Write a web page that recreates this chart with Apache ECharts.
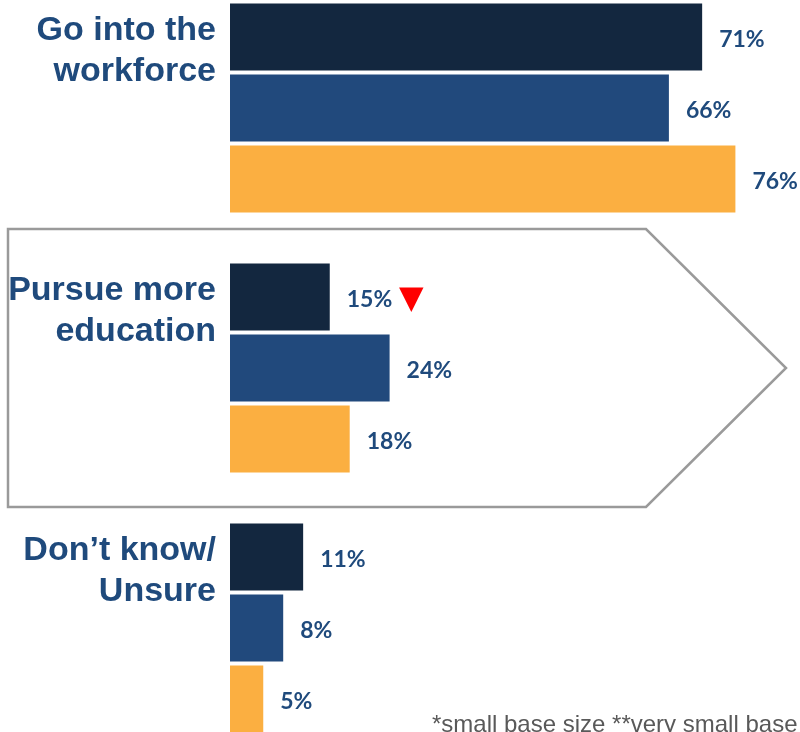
<!DOCTYPE html>
<html>
<head>
<meta charset="utf-8">
<script src="https://cdn.jsdelivr.net/npm/echarts@6/dist/echarts.min.js"></script>
<style>
  html, body { margin: 0; padding: 0; background: #ffffff; }
  #chart { width: 800px; height: 732px; }
</style>
</head>
<body>
<div id="chart"></div>
<script>
// Plans after finishing school, three survey groups
const categories = ['Go into the\nworkforce', 'Pursue more\neducation', 'Don\u2019t know/\nUnsure'];
const seriesNames = ['Group A', 'Group B', 'Group C'];
const valuesA = [71, 15, 11];
const valuesB = [66, 24, 8];
const valuesC = [76, 18, 5];
// significant decrease markers (same order as categories)
const dropA = [false, true, false];
const dropB = [false, false, false];
const dropC = [false, false, false];
const footnote = '*small base size **very small base';

const colors = ['#13273F', '#21497C', '#FBAF41'];
const textBlue = '#1F4A7C';

function makeSeries(name, values, drops, color) {
  return {
    name: name,
    type: 'bar',
    barWidth: 67,
    barGap: '6%',
    itemStyle: { color: color },
    data: values.map(function (v, i) { return { value: v, drop: drops[i] }; }),
    label: {
      show: true,
      position: 'right',
      distance: 17,
      offset: [0, 3],
      formatter: function (p) {
        return p.data.drop ? '{v|' + p.value + '%}  {t|\u25BC}' : '{v|' + p.value + '%}';
      },
      rich: {
        v: { fontFamily: 'Lato', fontWeight: 'bold', fontSize: 23, color: textBlue },
        t: { fontFamily: 'DejaVu Sans', fontSize: 32, color: '#FF0000' }
      }
    },
    z: 3
  };
}

const chart = echarts.init(document.getElementById('chart'), null, { renderer: 'canvas' });
chart.setOption({
  animation: false,
  backgroundColor: '#ffffff',
  grid: { left: 230, top: -22, width: 665, height: 780, outerBoundsMode: 'none', containLabel: false },
  xAxis: {
    type: 'value', min: 0, max: 100, show: false
  },
  yAxis: {
    type: 'category',
    inverse: true,
    data: categories,
    axisLine: { show: false },
    axisTick: { show: false },
    splitLine: { show: false },
    axisLabel: {
      margin: 14,
      align: 'right',
      verticalAlign: 'middle',
      // two text lines plus a spacer line that lifts the label above the band centre
      formatter: function (v) {
        return v.split('\n').map(function (s) { return '{a|' + s + '}'; }).join('\n') + '\n{s| }';
      },
      rich: {
        a: {
          fontFamily: 'Liberation Sans, Arial',
          fontWeight: 'bold',
          fontSize: 34,
          lineHeight: 41,
          color: textBlue,
          align: 'right'
        },
        s: { fontSize: 10, lineHeight: 114 }
      }
    }
  },
  graphic: [
    {
      type: 'polygon',
      z: 0,
      shape: { points: [[8, 229], [646, 229], [786, 368], [646, 507], [8, 507]] },
      style: { fill: '#ffffff', stroke: '#9A9A9A', lineWidth: 2.5 }
    },
    {
      type: 'text',
      z: 10,
      style: {
        x: 432,
        y: 737,
        text: footnote,
        verticalAlign: 'bottom',
        fontFamily: 'Liberation Sans, Arial',
        fontSize: 24,
        fill: '#595959'
      }
    }
  ],
  series: [
    makeSeries(seriesNames[0], valuesA, dropA, colors[0]),
    makeSeries(seriesNames[1], valuesB, dropB, colors[1]),
    makeSeries(seriesNames[2], valuesC, dropC, colors[2])
  ]
});
</script>
</body>
</html>
